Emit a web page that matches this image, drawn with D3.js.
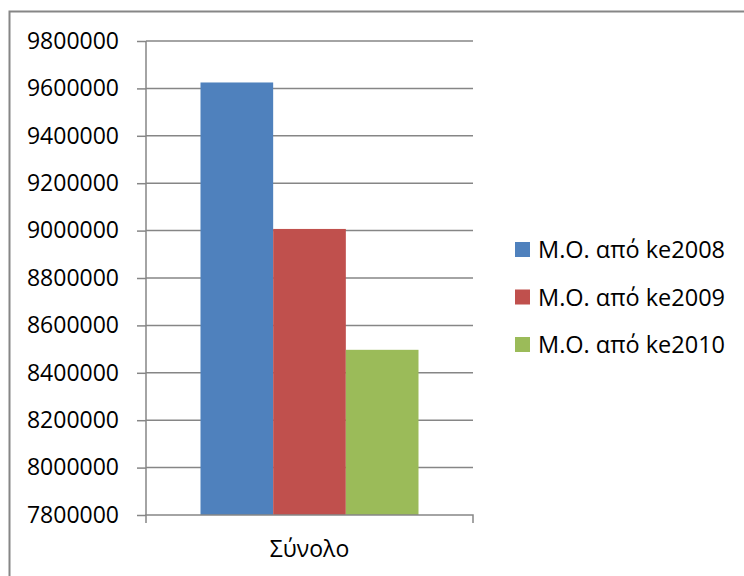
<!DOCTYPE html>
<html>
<head>
<meta charset="utf-8">
<script src="https://cdn.jsdelivr.net/npm/d3@7"></script>
<style>
  html, body { margin: 0; padding: 0; background: #fff; }
  svg { display: block; }
  text { font-family: "Open Sans", "Noto Sans", sans-serif; fill: #000; }
</style>
</head>
<body>
<svg id="chart" width="744" height="576"></svg>
<script>
// Averages per year, single category "Σύνολο"
const categories = ["Σύνολο"];
const seriesNames = ["Μ.Ο. από ke2008", "Μ.Ο. από ke2009", "Μ.Ο. από ke2010"];
const seriesValues = [9625000, 9007000, 8497000];
const seriesColors = ["#4F81BD", "#C0504D", "#9BBB59"];
const yTicks = [7800000, 8000000, 8200000, 8400000, 8600000, 8800000, 9000000, 9200000, 9400000, 9600000, 9800000];

const svg = d3.select("#chart");

// outer chart frame
svg.append("rect")
  .attr("x", 9.5).attr("y", 11.5)
  .attr("width", 760).attr("height", 600)
  .attr("fill", "none").attr("stroke", "#868686").attr("stroke-width", 2);

const plot = { left: 146, right: 473, top: 41, bottom: 515 };

const x = d3.scaleBand().domain(categories).range([plot.left, plot.right]).paddingInner(0).paddingOuter(0);
const y = d3.scaleLinear().domain([7800000, 9800000]).range([plot.bottom, plot.top]);
const xs = d3.scaleBand().domain(seriesNames).range([0, x.bandwidth()]).paddingInner(0).paddingOuter(0.75);

// horizontal gridlines
svg.append("g").selectAll("line")
  .data(yTicks.slice(1))
  .join("line")
  .attr("x1", plot.left).attr("x2", plot.right)
  .attr("y1", d => y(d)).attr("y2", d => y(d))
  .attr("stroke", "#868686").attr("stroke-width", 1.5);

// bars
const data = seriesNames.map((s, i) => ({ cat: categories[0], name: s, value: seriesValues[i], color: seriesColors[i] }));
svg.append("g").selectAll("rect")
  .data(data)
  .join("rect")
  .attr("x", d => x(d.cat) + xs(d.name))
  .attr("width", xs.bandwidth())
  .attr("y", d => y(d.value))
  .attr("height", d => y.range()[0] - y(d.value))
  .attr("fill", d => d.color);

// y axis
const yAxis = svg.append("g")
  .attr("transform", `translate(${plot.left},0)`)
  .call(d3.axisLeft(y).tickValues(yTicks).tickFormat(d3.format("d")).tickSize(9).tickPadding(18));
yAxis.select(".domain").attr("stroke", "#868686").attr("stroke-width", 1.5).attr("d", `M0,${plot.top}V${plot.bottom}`);
yAxis.selectAll(".tick line").attr("stroke", "#868686").attr("stroke-width", 1.5);
yAxis.selectAll(".tick text").attr("font-size", 23).attr("font-family", "Open Sans, Noto Sans, sans-serif").attr("fill", "#000");

// x axis
const xAxis = svg.append("g")
  .attr("transform", `translate(0,${plot.bottom})`)
  .call(d3.axisBottom(x).tickSize(0).tickPadding(26));
xAxis.select(".domain").attr("stroke", "#868686").attr("stroke-width", 1.5)
  .attr("d", `M${plot.left},8V0H${plot.right}V8`);
xAxis.selectAll(".tick text").attr("font-size", 23).attr("font-family", "Open Sans, Noto Sans, sans-serif").attr("fill", "#000");

// legend
const legend = svg.append("g").attr("transform", "translate(515,242)");
const rowH = 47.5;
const item = legend.selectAll("g").data(data).join("g")
  .attr("transform", (d, i) => `translate(0,${i * rowH})`);
item.append("rect").attr("width", 15).attr("height", 15).attr("fill", d => d.color);
item.append("text")
  .attr("x", 23).attr("y", 8).attr("dy", "0.35em")
  .attr("font-size", 23.5)
  .text(d => d.name);
</script>
</body>
</html>
